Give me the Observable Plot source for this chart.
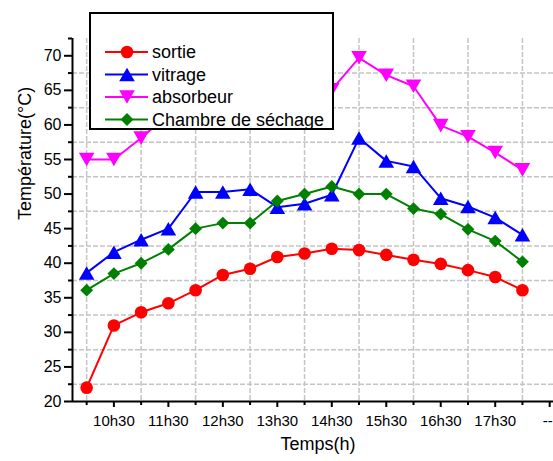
<!DOCTYPE html>
<html><head><meta charset="utf-8">
<script src="https://cdn.jsdelivr.net/npm/d3@7"></script>
<script src="https://cdn.jsdelivr.net/npm/@observablehq/plot@0.6"></script>
<style>
body{margin:0;background:#fff;}
#wrap{position:relative;width:553px;height:461px;font-family:"Liberation Sans",Arial,sans-serif;}
#legend{position:absolute;left:89px;top:12px;}
</style></head><body><div id="wrap"></div>
<script>
// Time of day (hours, half-hour steps)
const times = [10, 10.5, 11, 11.5, 12, 12.5, 13, 13.5, 14, 14.5, 15, 15.5, 16, 16.5, 17, 17.5, 18];
// Series (°C)
const sortie   = [22.0, 31.0, 32.9, 34.2, 36.1, 38.3, 39.2, 40.9, 41.4, 42.1, 41.9, 41.2, 40.5, 39.9, 39.0, 38.0, 36.1];
const vitrage  = [38.6, 41.6, 43.4, 45.0, 50.3, 50.3, 50.7, 48.1, 48.6, 49.9, 58.1, 54.8, 54.0, 49.4, 48.2, 46.6, 44.1];
const absorbeur= [55.0, 55.0, 58.1, 61.5, 62.5, 63.0, 63.5, 64.0, 64.5, 65.1, 69.7, 67.2, 65.6, 59.9, 58.3, 56.0, 53.5];
const chambre  = [36.1, 38.5, 40.0, 42.0, 45.0, 45.8, 45.8, 49.0, 50.0, 51.1, 50.0, 50.0, 47.9, 47.1, 44.9, 43.2, 40.2];
const seriesNames = ["sortie", "vitrage", "absorbeur", "Chambre de séchage"];
const seriesColors = ["#ff0000", "#0000ff", "#ff00ff", "#008000"];
// Axis ticks
const xTickValues = [10.5, 11.5, 12.5, 13.5, 14.5, 15.5, 16.5, 17.5, 18.5];
const xTickLabels = ["10h30", "11h30", "12h30", "13h30", "14h30", "15h30", "16h30", "17h30", "--"];
const xMinorTicks = [10, 11, 12, 13, 14, 15, 16, 17, 18];
const yMajorTicks = [20, 25, 30, 35, 40, 45, 50, 55, 60, 65, 70];
const yMinorTicks = [22.5, 27.5, 32.5, 37.5, 42.5, 47.5, 52.5, 57.5, 62.5, 67.5, 72.5];
const yGrid = [22.5, 27.5, 32.5, 37.5, 42.5, 47.5, 52.5, 57.5, 62.5, 67.5];

const triUp = {draw(ctx, size){ const w = Math.sqrt(size/Math.PI)*1.3, h = w*Math.sqrt(3);
  ctx.moveTo(0,-h/2); ctx.lineTo(w,h/2); ctx.lineTo(-w,h/2); ctx.closePath(); }};
const triDown = {draw(ctx, size){ const w = Math.sqrt(size/Math.PI)*1.3, h = w*Math.sqrt(3);
  ctx.moveTo(0,h/2); ctx.lineTo(w,-h/2); ctx.lineTo(-w,-h/2); ctx.closePath(); }};
const symbols = ["circle", triUp, triDown, "diamond2"];
const radii = [6.3, 6, 6, 5.8];
const values = [sortie, vitrage, absorbeur, chambre];

const xmin = 9.74, xmax = 18.57;
const seriesMarks = [];
values.forEach((vals, k) => {
  const rows = times.map((t, i) => ({t, v: vals[i]}));
  seriesMarks.push(Plot.line(rows, {x: "t", y: "v", stroke: seriesColors[k], strokeWidth: 2}));
  seriesMarks.push(Plot.dot(rows, {x: "t", y: "v", fill: seriesColors[k], stroke: "none", r: radii[k], symbol: symbols[k]}));
});

const lastIdx = xTickValues.length - 1;
const chart = Plot.plot({
  width: 553, height: 461,
  marginLeft: 72, marginRight: 0, marginTop: 38, marginBottom: 60,
  style: {fontFamily: '"Liberation Sans", Arial, sans-serif', color: "black", background: "white"},
  x: {domain: [xmin, xmax]},
  y: {domain: [20, 72.5]},
  marks: [
    Plot.gridX(xMinorTicks, {stroke: "#c4c4c4", strokeOpacity: 1, strokeWidth: 1.5, strokeDasharray: "5,2"}),
    Plot.gridY(yGrid, {stroke: "#c4c4c4", strokeOpacity: 1, strokeWidth: 1.5, strokeDasharray: "5,2"}),
    ...seriesMarks,
    Plot.ruleY([20], {stroke: "black", strokeWidth: 2}),
    Plot.ruleX([xmin], {stroke: "black", strokeWidth: 2}),
    Plot.axisX(xTickValues.slice(0, lastIdx), {tickSize: 6, tickPadding: 8, strokeWidth: 2, fontSize: 15, label: null,
      tickFormat: d => xTickLabels[xTickValues.indexOf(d)]}),
    Plot.axisX([xTickValues[lastIdx]], {tickSize: 6, strokeWidth: 2, label: null, tickFormat: () => ""}),
    Plot.text([xTickValues[lastIdx]], {x: d => d, y: () => 20, lineAnchor: "top", textAnchor: "end", dx: 3, dy: 14,
      fontSize: 15, text: () => xTickLabels[lastIdx]}),
    Plot.axisX(xMinorTicks, {tickSize: 4, strokeWidth: 2, label: null, tickFormat: () => ""}),
    Plot.axisY(yMajorTicks, {tickSize: 8, tickPadding: 3, strokeWidth: 2, fontSize: 16, label: null}),
    Plot.axisY(yMinorTicks, {tickSize: 4, strokeWidth: 2, label: null, tickFormat: () => ""}),
    Plot.text(["Température(°C)"], {frameAnchor: "left", rotate: -90, dx: -47, fontSize: 18, text: d => d}),
    Plot.text(["Temps(h)"], {frameAnchor: "bottom", dy: 48, dx: 5, fontSize: 18, text: d => d})
  ]
});
const wrap = document.getElementById("wrap");
wrap.appendChild(chart);

// Legend
const lg = d3.create("svg").attr("id", "legend").attr("width", 245).attr("height", 118);
lg.append("rect").attr("x", 1).attr("y", 1).attr("width", 243).attr("height", 116)
  .attr("fill", "white").attr("stroke", "black").attr("stroke-width", 2);
const rowY = [40, 62.5, 85, 107.5];
seriesNames.forEach((name, k) => {
  const g = lg.append("g").attr("transform", `translate(0,${rowY[k]})`);
  g.append("line").attr("x1", 16).attr("x2", 59).attr("stroke", seriesColors[k]).attr("stroke-width", 2);
  const sym = typeof symbols[k] === "string" ? (symbols[k] === "circle" ? d3.symbolCircle : d3.symbolDiamond2) : symbols[k];
  g.append("path").attr("transform", "translate(38,0)")
    .attr("d", d3.symbol(sym, Math.PI * radii[k] * radii[k])()).attr("fill", seriesColors[k]);
  g.append("text").attr("x", 63).attr("dy", "0.35em").attr("font-size", 18)
    .attr("font-family", '"Liberation Sans", Arial, sans-serif').text(name);
});
wrap.appendChild(lg.node());
</script>
</body></html>
